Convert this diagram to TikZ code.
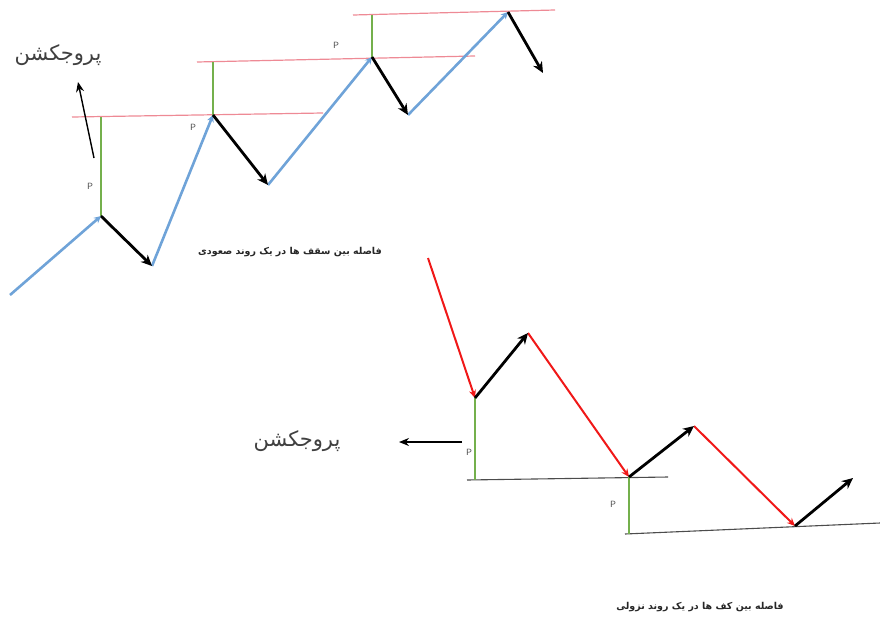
\documentclass[tikz,border=0pt]{standalone}
\usepackage{fontspec}
\usetikzlibrary{arrows.meta}
\TeXXeTstate=1
\newfontfamily\arabicfont[Script=Arabic]{DejaVu Sans}
\definecolor{trendblue}{HTML}{6FA3D8}
\definecolor{roofred}{HTML}{EE8A95}
\definecolor{gapgreen}{HTML}{74B04C}
\definecolor{legred}{HTML}{F01818}
\tikzset{
  upleg/.style={trendblue, line width=2.6pt, -{Stealth[length=7pt,width=7pt]}},
  pull/.style={black, line width=2.8pt, -{Stealth[length=11pt,width=10pt]}},
  downleg/.style={legred, line width=2pt, -{Stealth[length=8pt,width=7pt]}},
  roof/.style={roofred, line width=1.2pt},
  floor/.style={black!70, line width=1.1pt},
  gap/.style={gapgreen, line width=1.7pt},
  projarrow/.style={black, line width=1.4pt, -{Stealth[length=10pt,width=8pt]}},
  plabel/.style={font=\sffamily\fontsize{9}{10}\selectfont, text=black!70},
  projlabel/.style={font=\arabicfont\fontsize{21}{24}\selectfont, text=black!75},
  caption/.style={font=\arabicfont\bfseries\fontsize{9.5}{11}\selectfont, text=black!85},
  >=Stealth
}
\begin{document}
\begin{tikzpicture}[x=1pt,y=-1pt]
  \useasboundingbox (0,0) rectangle (880,629);
  % Uptrend
  \coordinate (u0) at (10,295);
  \coordinate (u1) at (101,216);
  \coordinate (u2) at (152,266);
  \coordinate (u3) at (213,115);
  \coordinate (u4) at (268,185);
  \coordinate (u5) at (372,57);
  \coordinate (u6) at (408,115);
  \coordinate (u7) at (508,12);
  \coordinate (u8) at (543,73);
  \coordinate (r1a) at (72,117);
  \coordinate (r1b) at (323,113);
  \coordinate (r2a) at (197,62);
  \coordinate (r2b) at (475,56);
  \coordinate (r3a) at (353,15);
  \coordinate (r3b) at (555,10);
  \draw[roof] (r1a)--(r1b);
  \draw[roof] (r2a)--(r2b);
  \draw[roof] (r3a)--(r3b);
  \draw[gap] (u1)--(u1|-r1a);
  \draw[gap] (u3)--(u3|-r2a);
  \draw[gap] (u5)--(u5|-r3a);
  \draw[upleg] (u0)--(u1);
  \draw[upleg] (u2)--(u3);
  \draw[upleg] (u4)--(u5);
  \draw[upleg] (u6)--(u7);
  \draw[pull] (u1)--(u2);
  \draw[pull] (u3)--(u4);
  \draw[pull] (u5)--(u6);
  \draw[pull] (u7)--(u8);
  \node[plabel] (p1) at (90,186) {P};
  \node[plabel] (p2) at (193,127) {P};
  \node[plabel] (p3) at (336,45) {P};
  \node[projlabel] (proj1) at (58,55) {\beginR پروجکشن\endR};
  \coordinate (a1) at (94,158);
  \coordinate (a1t) at (78,82);
  \draw[projarrow] (a1)--(a1t);
  \node[caption] (cap1) at (290,252) {\beginR فاصله بین سقف ها در یک روند صعودی\endR};
  % Downtrend
  \coordinate (d0) at (428,258);
  \coordinate (d1) at (475,398);
  \coordinate (d2) at (528,333);
  \coordinate (d3) at (629,477);
  \coordinate (d4) at (694,426);
  \coordinate (d5) at (795,526);
  \coordinate (d6) at (853,478);
  \coordinate (f1a) at (467,480);
  \coordinate (f1b) at (668,477);
  \coordinate (f2a) at (625,534);
  \coordinate (f2b) at (880,523);
  \draw[floor] (f1a)--(f1b);
  \draw[floor] (f2a)--(f2b);
  \draw[gap] (d1)--(d1|-f1a);
  \draw[gap] (d3)--(d3|-f2a);
  \draw[downleg] (d0)--(d1);
  \draw[downleg] (d2)--(d3);
  \draw[downleg] (d4)--(d5);
  \draw[pull] (d1)--(d2);
  \draw[pull] (d3)--(d4);
  \draw[pull] (d5)--(d6);
  \node[plabel] (p4) at (469,452) {P};
  \node[plabel] (p5) at (613,504) {P};
  \node[projlabel] (proj2) at (297,441) {\beginR پروجکشن\endR};
  \coordinate (a2) at (462,442);
  \coordinate (a2t) at (399,442);
  \draw[projarrow] (a2)--(a2t);
  \node[caption] (cap2) at (700,607) {\beginR فاصله بین کف ها در یک روند نزولی\endR};
\end{tikzpicture}
\end{document}
